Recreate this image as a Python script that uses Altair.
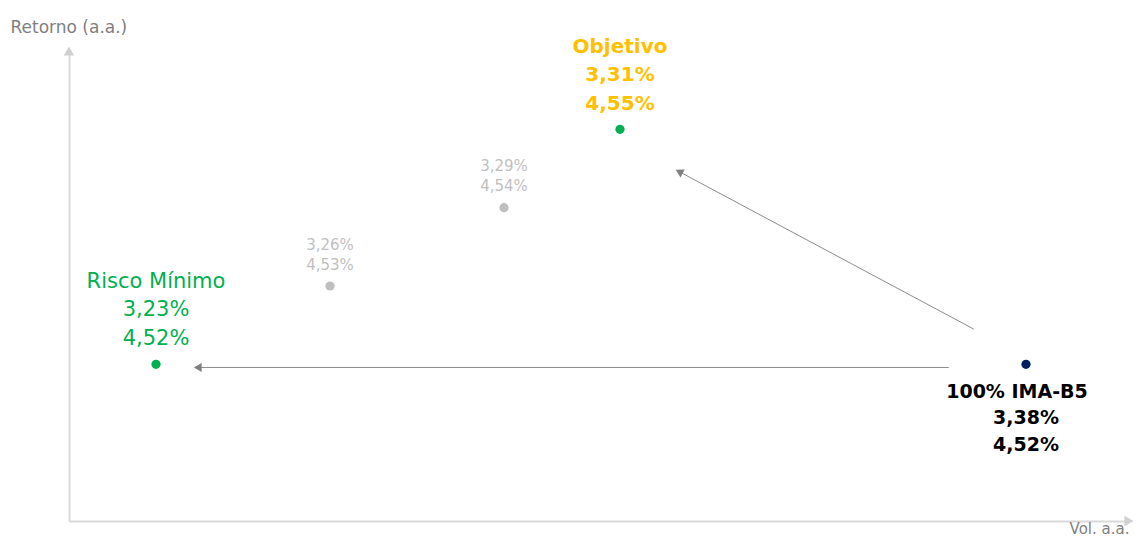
import altair as alt
import pandas as pd

# Data
names = ["Risco Mínimo", "p2", "p3", "Objetivo", "100% IMA-B5"]
vol = [3.23, 3.26, 3.29, 3.31, 3.38]
ret = [4.52, 4.53, 4.54, 4.55, 4.52]
label_lines = [
    ["Risco Mínimo", "3,23%", "4,52%"],
    ["3,26%", "4,53%"],
    ["3,29%", "4,54%"],
    ["Objetivo", "3,31%", "4,55%"],
    ["100% IMA-B5", "3,38%", "4,52%"],
]
colors = ["#00b050", "#bfbfbf", "#bfbfbf", "#00b050", "#002060"]

# arrows (start -> end) in data units
arr_x = [3.3667, 3.371]
arr_y = [4.5196, 4.5245]
arr_x2 = [3.2372, 3.3202]
arr_y2 = [4.5196, 4.5446]
arr_angle = [270, 298]

XD = [3.215, 3.39776]
YD = [4.50, 4.56]

# text styles per point: color, size, weight, line offsets (px from point), dx per line
styles = [
    ("#00b050", 21, "normal", [-82, -54, -25], [0, 0, 0]),
    ("#bfbfbf", 15, "normal", [-41, -21], [0, 0]),
    ("#bfbfbf", 15, "normal", [-42, -22], [0, 0]),
    ("#ffc000", 20, "bold", [-82, -54, -25], [0, 0, 0]),
    ("#000000", 19, "bold", [28, 54, 81], [-9, 0, 0]),
]

df = pd.DataFrame({"name": names, "vol": vol, "ret": ret, "color": colors})
arr = pd.DataFrame({"x": arr_x, "y": arr_y, "x2": arr_x2, "y2": arr_y2, "angle": arr_angle})

FONT = "DejaVu Sans"

xs = alt.Scale(domain=XD, nice=False, zero=False)
ys = alt.Scale(domain=YD, nice=False, zero=False)

XAX = alt.Axis(
    title="Vol. a.a.", ticks=False, labels=False, grid=False,
    domainColor="#d9d9d9", domainWidth=2,
    titleFont=FONT, titleFontSize=15, titleFontWeight="normal", titleColor="#7f7f7f",
    titleAnchor="end", titleAlign="right", titleBaseline="alphabetic", titleX=1060, titleY=12)
YAX = alt.Axis(
    title="Retorno (a.a.)", ticks=False, labels=False, grid=False,
    domainColor="#d9d9d9", domainWidth=2,
    titleFont=FONT, titleFontSize=17, titleFontWeight="normal", titleColor="#7f7f7f",
    titleAngle=0, titleAlign="left", titleBaseline="middle", titleX=-59, titleY=-24)


def X(field):
    return alt.X(field, scale=xs, axis=XAX, title="Vol. a.a.")


def Y(field):
    return alt.Y(field, scale=ys, axis=YAX, title="Retorno (a.a.)")


points = alt.Chart(df).mark_circle(size=85, opacity=1).encode(
    x=X("vol:Q"), y=Y("ret:Q"), color=alt.Color("color:N", scale=None))

text_layers = []
for i, lines in enumerate(label_lines):
    color, size, weight, offs, dxs = styles[i]
    for j, line in enumerate(lines):
        d = pd.DataFrame({"vol": [vol[i]], "ret": [ret[i]], "t": [line]})
        text_layers.append(
            alt.Chart(d).mark_text(
                font=FONT, fontSize=size, fontWeight=weight, color=color,
                align="center", baseline="middle", dy=offs[j], dx=dxs[j]
            ).encode(x=X("vol:Q"), y=Y("ret:Q"), text="t:N")
        )

rules = alt.Chart(arr).mark_rule(color="#8c8c8c", strokeWidth=1).encode(
    x=X("x:Q"), y=Y("y:Q"), x2="x2:Q", y2="y2:Q")
heads = alt.Chart(arr).mark_point(shape="triangle-up", filled=True, size=80,
                                  color="#7f7f7f", opacity=1).encode(
    x=X("x2:Q"), y=Y("y2:Q"), angle=alt.Angle("angle:Q", scale=None))

axhead = pd.DataFrame({"x": [XD[0], XD[1]], "y": [YD[1], YD[0]], "angle": [0, 90]})
axheads = alt.Chart(axhead).mark_point(shape="triangle-up", filled=True, size=110,
                                       color="#d0d0d0", opacity=1).encode(
    x=X("x:Q"), y=Y("y:Q"), angle=alt.Angle("angle:Q", scale=None))

chart = alt.layer(rules, heads, axheads, points, *text_layers).properties(
    width=1060, height=470,
    autosize=alt.AutoSizeParams(type="none"),
    padding={"left": 61, "top": 43, "right": 5, "bottom": 16},
    view=alt.ViewBackground(stroke="transparent", strokeWidth=0),
).configure_view(stroke="transparent", strokeWidth=0).configure(background="white")

chart.save("out.html", embed_options={"renderer": "svg", "actions": False})
